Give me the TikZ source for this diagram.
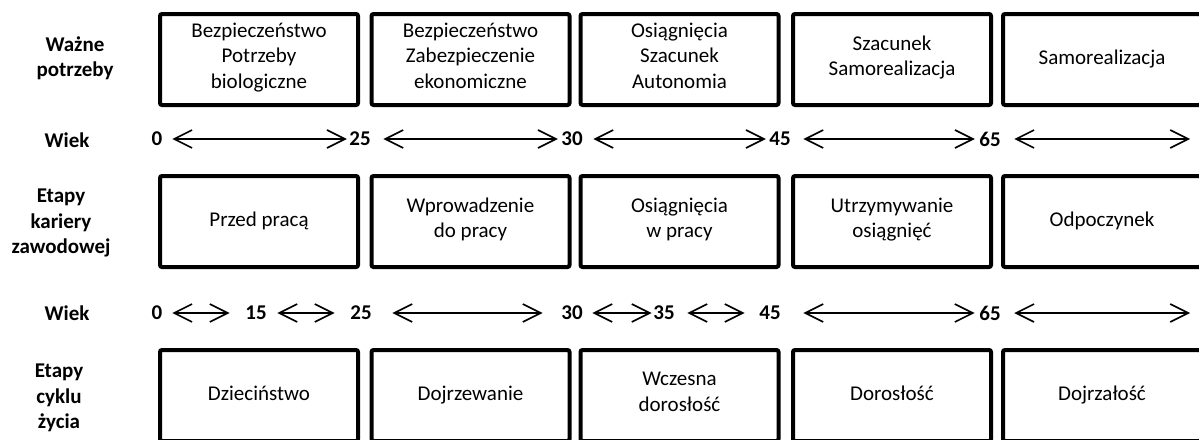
\documentclass[tikz,border=0pt]{standalone}
\usepackage{fontspec}
\setmainfont{Carlito}
\usetikzlibrary{arrows.meta}

\tikzset{
  etap/.style={draw, line width=2pt, rounded corners=1pt, minimum width=99pt,
    minimum height=45.5pt, align=center, inner sep=2pt,
    execute at begin node=\strut, execute at end node=\strut},
  opis/.style={font=\fontsize{10.5}{12.6}\selectfont\bfseries, align=center},
  wiek/.style={font=\fontsize{10.5}{12.6}\selectfont\bfseries, inner sep=0pt},
  strz/.style={<->, line width=0.8pt}
}

\begin{document}
\begin{tikzpicture}[x=0.5pt, y=-0.5pt,
    every node/.append style={font=\fontsize{10.5}{12.8}\selectfont},
    >={Straight Barb[length=9pt,width=9pt]}]
  \useasboundingbox (0,0) rectangle (1199,439);

  % Ważne potrzeby
  \node[opis] (potrz) at (75,58) {Ważne\\potrzeby};
  \node[etap] (p1) at (259,59.5) {Bezpieczeństwo\\Potrzeby\\biologiczne};
  \node[etap] (p2) at (470.5,59.5) {Bezpieczeństwo\\Zabezpieczenie\\ekonomiczne};
  \node[etap] (p3) at (679.5,59.5) {Osiągnięcia\\Szacunek\\Autonomia};
  \node[etap] (p4) at (892,59.5) {Szacunek\\Samorealizacja};
  \node[etap] (p5) at (1102,59.5) {Samorealizacja};

  % Wiek (kariera)
  \node[opis] (wiekA) at (67,140) {Wiek};
  \node[wiek] (a0) at (157,139) {0};
  \node[wiek] (a25) at (360,139) {25};
  \node[wiek] (a30) at (572,139) {30};
  \node[wiek] (a45) at (780,139) {45};
  \node[wiek] (a65) at (990,139) {65};
  \coordinate (aend) at (1190,139);
  \draw[strz, shorten <=4.8pt, shorten >=1.1pt] (a0) -- (a25);
  \draw[strz, shorten <=6.2pt, shorten >=1.6pt] (a25) -- (a30);
  \draw[strz, shorten <=5.2pt, shorten >=1.6pt] (a30) -- (a45);
  \draw[strz, shorten <=6.2pt, shorten >=2.1pt] (a45) -- (a65);
  \draw[strz, shorten <=6.6pt] (a65) -- (aend);

  % Etapy kariery zawodowej
  \node[opis] (kariera) at (61,223) {Etapy\\kariery\\zawodowej};
  \node[etap] (k1) at (259,221.5) {Przed pracą};
  \node[etap] (k2) at (470.5,221.5) {Wprowadzenie\\do pracy};
  \node[etap] (k3) at (679.5,221.5) {Osiągnięcia\\w pracy};
  \node[etap] (k4) at (892,221.5) {Utrzymywanie\\osiągnięć};
  \node[etap] (k5) at (1102,221.5) {Odpoczynek};

  % Wiek (cykl życia)
  \node[opis] (wiekB) at (67,313) {Wiek};
  \node[wiek] (b0) at (157,313) {0};
  \node[wiek] (b15) at (256,313) {15};
  \node[wiek] (b25) at (361,313) {25};
  \node[wiek] (b30) at (572,313) {30};
  \node[wiek] (b35) at (664,313) {35};
  \node[wiek] (b45) at (770,313) {45};
  \node[wiek] (b65) at (990,313) {65};
  \coordinate (bend) at (1190,313);
  \draw[strz, shorten <=4.8pt, shorten >=7.7pt] (b0) -- (b15);
  \draw[strz, shorten <=5.2pt, shorten >=7.7pt] (b15) -- (b25);
  \draw[strz, shorten <=10.2pt, shorten >=9.2pt] (b25) -- (b30);
  \draw[strz, shorten <=4.7pt, shorten >=0.7pt] (b30) -- (b35);
  \draw[strz, shorten <=6.2pt, shorten >=7.2pt] (b35) -- (b45);
  \draw[strz, shorten <=11.2pt, shorten >=2.2pt] (b45) -- (b65);
  \draw[strz, shorten <=6.6pt] (b65) -- (bend);

  % Etapy cyklu życia
  \node[opis] (cykl) at (59,398) {Etapy\\cyklu\\życia};
  \node[etap] (c1) at (259,395.5) {Dzieciństwo};
  \node[etap] (c2) at (470.5,395.5) {Dojrzewanie};
  \node[etap] (c3) at (679.5,395.5) {Wczesna\\dorosłość};
  \node[etap] (c4) at (892,395.5) {Dorosłość};
  \node[etap] (c5) at (1102,395.5) {Dojrzałość};
\end{tikzpicture}
\end{document}
